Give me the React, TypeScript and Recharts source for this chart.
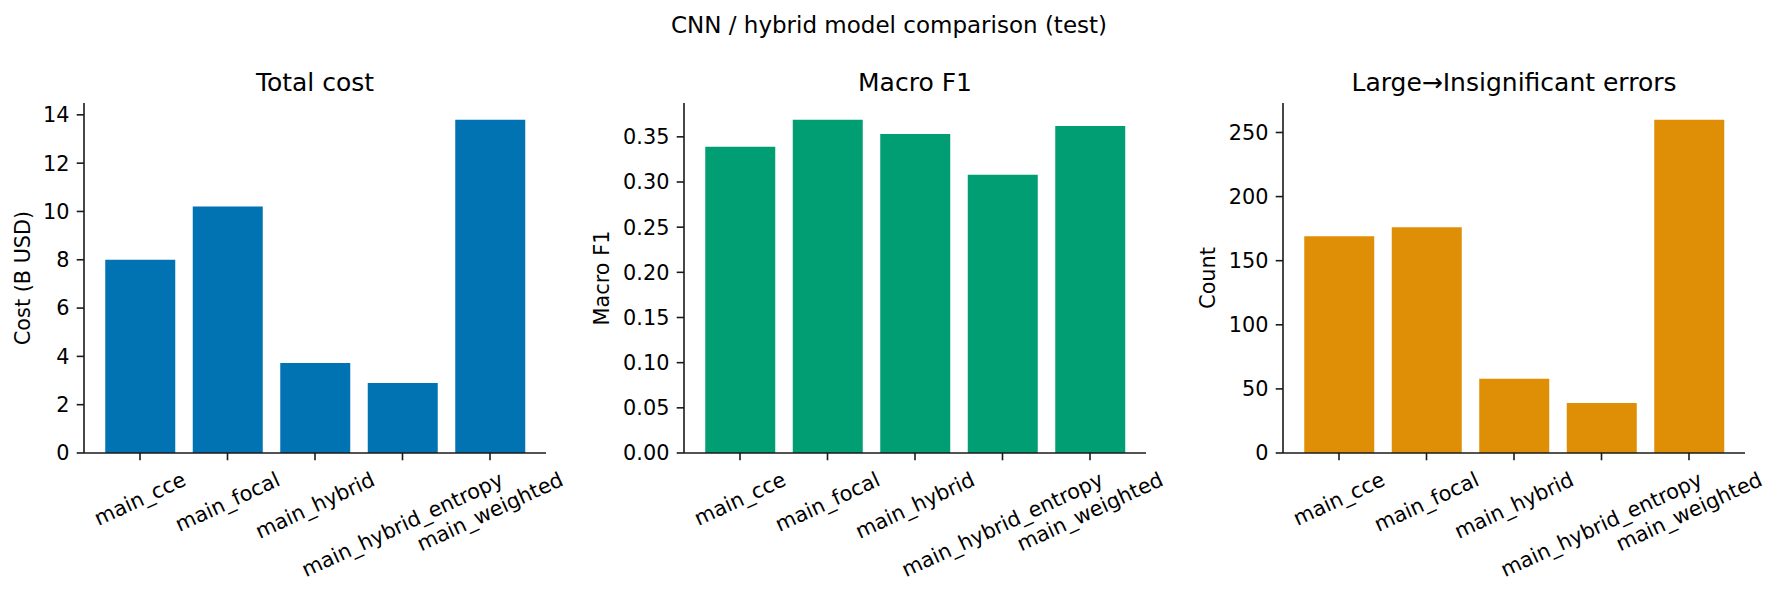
import React from "react";
import { BarChart, Bar, XAxis, YAxis } from "recharts";

const models = [
  "main_cce",
  "main_focal",
  "main_hybrid",
  "main_hybrid_entropy",
  "main_weighted",
];

const totalCost = [8.0, 10.2, 3.73, 2.9, 13.8];
const macroF1 = [0.339, 0.369, 0.353, 0.308, 0.362];
const largeToInsignificant = [169, 176, 58, 39, 260];

const costTicks = [0, 2, 4, 6, 8, 10, 12, 14];
const f1Ticks = [0, 0.05, 0.1, 0.15, 0.2, 0.25, 0.3, 0.35];
const countTicks = [0, 50, 100, 150, 200, 250];

const FONT = "'DejaVu Sans', sans-serif";
const TICK_FS = 20.8;
const AXIS_COLOR = "#1a1a1a";

let canvas: HTMLCanvasElement | null = null;
const measure = (text: string) => {
  if (!canvas) canvas = document.createElement("canvas");
  const ctx = canvas.getContext("2d");
  if (!ctx) return text.length * TICK_FS * 0.6;
  ctx.font = `${TICK_FS}px 'DejaVu Sans'`;
  return ctx.measureText(text).width;
};

// rotated (25deg) category label, bbox top hanging under the tick like matplotlib
const RotatedTick = (props: any) => {
  const { x, y, payload } = props;
  const text = String(payload.value);
  const w = measure(text);
  const a = (25 * Math.PI) / 180;
  const h = TICK_FS * 1.164;
  const half = (w * Math.sin(a) + h * Math.cos(a)) / 2;
  const cy = y + half;
  return (
    <text
      x={x}
      y={cy}
      textAnchor="middle"
      dominantBaseline="central"
      fontSize={TICK_FS}
      fontFamily={FONT}
      fill="#000"
      transform={`rotate(-25, ${x}, ${cy})`}
    >
      {text}
    </text>
  );
};

interface PanelProps {
  title: string;
  yLabel: string;
  values: number[];
  ticks: number[];
  color: string;
  left: number;
  yLabelX: number;
  fmt?: (v: number) => string;
}

const PLOT_W = 462;
const Y_W = 84;
const CHART_W = Y_W + PLOT_W + 20;

const Panel: React.FC<PanelProps> = ({
  title,
  yLabel,
  values,
  ticks,
  color,
  left,
  yLabelX,
  fmt,
}) => {
  const data = models.map((name, i) => ({ name, value: values[i] }));
  const top = Math.max(...values) * 1.05;
  const centerX = left + Y_W + PLOT_W / 2;
  return (
    <>
      <BarChart
        width={CHART_W}
        height={595}
        data={data}
        margin={{ top: 103, right: 20, bottom: 0, left: 0 }}
        style={{ position: "absolute", left, top: 0 }}
      >
        <XAxis
          dataKey="name"
          type="category"
          interval={0}
          height={142}
          padding={{ left: 12.25, right: 12.25 }}
          tickSize={7.3}
          tickMargin={7}
          axisLine={{ stroke: AXIS_COLOR, strokeWidth: 1.6 }}
          tickLine={{ stroke: AXIS_COLOR, strokeWidth: 1.6 }}
          tick={<RotatedTick />}
        />
        <YAxis
          type="number"
          width={Y_W}
          domain={[0, top]}
          ticks={ticks}
          tickSize={7.3}
          tickMargin={7.3}
          tickFormatter={fmt}
          axisLine={{ stroke: AXIS_COLOR, strokeWidth: 1.6 }}
          tickLine={{ stroke: AXIS_COLOR, strokeWidth: 1.6 }}
          tick={{ fill: "#000", fontSize: TICK_FS, fontFamily: FONT }}
        />
        <Bar dataKey="value" fill={color} barSize={70} isAnimationActive={false} />
      </BarChart>
      <div
        style={{
          position: "absolute",
          left: centerX - 300,
          width: 600,
          top: 68,
          height: 30,
          lineHeight: "30px",
          textAlign: "center",
          fontSize: 25,
          whiteSpace: "nowrap",
        }}
      >
        {title}
      </div>
      <div
        style={{
          position: "absolute",
          left: yLabelX,
          top: 278,
          transform: "translate(-50%, -50%) rotate(-90deg)",
          fontSize: TICK_FS,
          lineHeight: 1,
          whiteSpace: "nowrap",
        }}
      >
        {yLabel}
      </div>
    </>
  );
};

export default function App() {
  return (
    <div
      style={{
        position: "absolute",
        left: 0,
        top: 0,
        width: 1778,
        height: 595,
        background: "#fff",
        fontFamily: FONT,
        color: "#000",
        overflow: "hidden",
      }}
    >
      <div
        style={{
          position: "absolute",
          left: 0,
          width: 1778,
          top: 11,
          height: 28,
          lineHeight: "28px",
          textAlign: "center",
          fontSize: 23,
        }}
      >
        CNN / hybrid model comparison (test)
      </div>
      <Panel
        title="Total cost"
        yLabel="Cost (B USD)"
        values={totalCost}
        ticks={costTicks}
        color="#0173B2"
        left={0}
        yLabelX={23}
      />
      <Panel
        title="Macro F1"
        yLabel="Macro F1"
        values={macroF1}
        ticks={f1Ticks}
        color="#029E73"
        left={600}
        yLabelX={602}
        fmt={(v) => v.toFixed(2)}
      />
      <Panel
        title="Large→Insignificant errors"
        yLabel="Count"
        values={largeToInsignificant}
        ticks={countTicks}
        color="#DE8F05"
        left={1199}
        yLabelX={1208}
      />
    </div>
  );
}
